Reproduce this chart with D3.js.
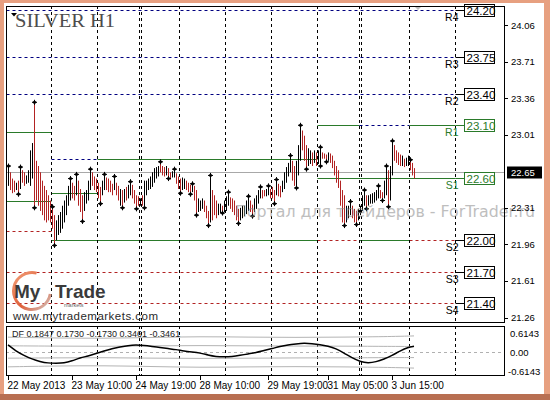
<!DOCTYPE html>
<html><head><meta charset="utf-8">
<script src="https://cdn.jsdelivr.net/npm/d3@7"></script>
<style>body{margin:0;background:#fff}svg{display:block}</style>
</head><body><svg id="c" width="550" height="400"></svg>
<script>
// ---------- DATA ----------
const barOpen=[22.54,22.63,22.57,22.55,22.50,22.55,22.51,22.65,22.63,22.56,22.57,22.54,22.61,23.30,22.74,22.69,22.63,22.55,22.50,22.46,22.41,22.36,22.30,22.22,22.02,22.07,22.09,22.13,22.19,22.26,22.35,22.40,22.53,22.50,22.45,22.55,22.47,22.41,22.30,22.37,22.40,22.50,22.63,22.59,22.57,22.53,22.49,22.45,22.50,22.58,22.57,22.55,22.52,22.50,22.53,22.50,22.35,22.46,22.38,22.49,22.42,22.45,22.51,22.46,22.41,22.40,22.35,22.41,22.33,22.45,22.50,22.51,22.53,22.57,22.61,22.63,22.73,22.69,22.68,22.64,22.67,22.63,22.61,22.62,22.62,22.59,22.57,22.50,22.51,22.55,22.53,22.51,22.48,22.50,22.46,22.29,22.30,22.32,22.36,22.31,22.26,22.19,22.46,22.41,22.36,22.26,22.28,22.31,22.29,22.30,22.35,22.39,22.38,22.36,22.31,22.28,22.21,22.23,22.25,22.27,22.30,22.36,22.32,22.29,22.32,22.37,22.42,22.46,22.46,22.44,22.45,22.47,22.49,22.46,22.45,22.52,22.50,22.48,22.51,22.57,22.63,22.67,22.74,22.69,22.52,22.64,22.78,23.03,22.98,22.89,22.73,22.75,22.82,22.76,22.82,22.75,22.73,22.83,22.82,22.81,22.77,22.81,22.79,22.74,22.69,22.65,22.55,22.46,22.41,22.19,22.23,22.26,22.31,22.28,22.26,22.21,22.26,22.30,22.35,22.41,22.35,22.37,22.37,22.38,22.40,22.42,22.46,22.44,22.42,22.45,22.65,22.40,22.64,22.89,22.84,22.82,22.80,22.73,22.76,22.73,22.73,22.75,22.72,22.67];
const barHigh=[22.71,22.65,22.59,22.57,22.55,22.57,22.70,22.67,22.65,22.62,22.67,22.86,22.93,23.32,22.76,22.71,22.65,22.57,22.52,22.48,22.43,22.38,22.32,22.24,22.19,22.24,22.27,22.33,22.38,22.43,22.52,22.59,22.55,22.52,22.63,22.57,22.49,22.43,22.46,22.48,22.57,22.68,22.65,22.61,22.59,22.55,22.51,22.57,22.63,22.60,22.59,22.57,22.54,22.61,22.55,22.52,22.49,22.48,22.49,22.51,22.53,22.56,22.53,22.48,22.43,22.42,22.40,22.43,22.57,22.57,22.59,22.61,22.65,22.69,22.70,22.71,22.75,22.71,22.70,22.71,22.69,22.65,22.66,22.68,22.64,22.61,22.59,22.60,22.59,22.57,22.55,22.53,22.54,22.52,22.48,22.40,22.38,22.40,22.38,22.33,22.28,22.62,22.48,22.43,22.38,22.35,22.35,22.33,22.38,22.42,22.46,22.41,22.40,22.38,22.33,22.30,22.31,22.33,22.33,22.38,22.42,22.38,22.34,22.40,22.43,22.48,22.51,22.48,22.48,22.49,22.52,22.49,22.51,22.48,22.58,22.54,22.52,22.57,22.65,22.70,22.74,22.81,22.76,22.71,22.76,22.91,23.10,23.05,23.00,22.91,22.88,22.86,22.84,22.86,22.84,22.86,22.89,22.84,22.83,22.82,22.84,22.83,22.81,22.76,22.71,22.67,22.57,22.48,22.43,22.33,22.33,22.37,22.33,22.30,22.28,22.30,22.33,22.43,22.48,22.43,22.43,22.44,22.45,22.46,22.48,22.52,22.48,22.46,22.57,22.71,22.67,22.71,22.95,22.91,22.86,22.84,22.82,22.81,22.78,22.79,22.81,22.77,22.74,22.69];
const barLow=[22.52,22.48,22.45,22.46,22.48,22.44,22.49,22.55,22.52,22.54,22.55,22.52,22.59,22.31,22.38,22.33,22.28,22.24,22.19,22.17,22.19,22.17,22.11,21.95,22.00,22.05,22.07,22.11,22.17,22.24,22.33,22.38,22.40,22.38,22.43,22.33,22.27,22.18,22.28,22.35,22.38,22.48,22.52,22.48,22.46,22.40,22.35,22.43,22.48,22.48,22.46,22.46,22.43,22.48,22.43,22.38,22.33,22.31,22.36,22.38,22.40,22.43,22.40,22.35,22.30,22.33,22.33,22.33,22.31,22.43,22.48,22.49,22.51,22.55,22.59,22.61,22.65,22.62,22.61,22.62,22.59,22.58,22.60,22.60,22.54,22.49,22.45,22.48,22.49,22.48,22.46,22.44,22.46,22.38,22.24,22.27,22.28,22.30,22.27,22.21,22.14,22.17,22.19,22.24,22.21,22.24,22.26,22.26,22.27,22.28,22.33,22.30,22.27,22.24,22.19,22.16,22.19,22.21,22.23,22.25,22.28,22.27,22.23,22.27,22.30,22.35,22.40,22.40,22.42,22.42,22.43,22.40,22.40,22.35,22.43,22.42,22.41,22.46,22.49,22.55,22.61,22.65,22.57,22.52,22.50,22.62,22.76,22.86,22.76,22.68,22.71,22.73,22.71,22.74,22.71,22.73,22.71,22.78,22.78,22.75,22.76,22.74,22.69,22.62,22.55,22.50,22.33,22.17,22.14,22.17,22.21,22.24,22.21,22.17,22.15,22.19,22.24,22.28,22.33,22.30,22.33,22.35,22.35,22.36,22.38,22.40,22.40,22.38,22.40,22.43,22.32,22.38,22.62,22.76,22.74,22.72,22.71,22.71,22.70,22.71,22.71,22.67,22.62,22.59];
const barClose=[22.69,22.50,22.47,22.48,22.53,22.46,22.68,22.57,22.54,22.60,22.65,22.84,22.91,22.33,22.40,22.35,22.30,22.26,22.21,22.19,22.21,22.19,22.13,21.97,22.17,22.22,22.25,22.31,22.36,22.41,22.50,22.57,22.42,22.40,22.61,22.35,22.29,22.20,22.44,22.46,22.55,22.66,22.54,22.50,22.48,22.42,22.37,22.55,22.61,22.50,22.48,22.48,22.45,22.59,22.45,22.40,22.47,22.33,22.47,22.40,22.51,22.54,22.42,22.37,22.32,22.35,22.38,22.35,22.55,22.55,22.57,22.59,22.63,22.67,22.68,22.69,22.67,22.64,22.63,22.69,22.61,22.60,22.65,22.66,22.56,22.51,22.47,22.58,22.57,22.50,22.48,22.46,22.52,22.40,22.26,22.38,22.36,22.38,22.29,22.23,22.16,22.60,22.21,22.26,22.23,22.33,22.33,22.28,22.36,22.40,22.44,22.32,22.29,22.26,22.21,22.18,22.29,22.31,22.31,22.36,22.40,22.29,22.25,22.38,22.41,22.46,22.49,22.42,22.44,22.47,22.50,22.42,22.42,22.37,22.56,22.44,22.43,22.55,22.63,22.68,22.72,22.79,22.59,22.54,22.74,22.89,23.08,22.88,22.78,22.70,22.86,22.84,22.73,22.84,22.73,22.84,22.87,22.79,22.79,22.76,22.83,22.76,22.71,22.64,22.57,22.52,22.35,22.19,22.16,22.31,22.31,22.35,22.23,22.19,22.17,22.28,22.31,22.41,22.46,22.32,22.41,22.42,22.43,22.44,22.46,22.50,22.42,22.40,22.55,22.69,22.34,22.69,22.93,22.78,22.76,22.74,22.73,22.79,22.72,22.77,22.79,22.69,22.64,22.65];
const fractalUp=[0,6,13,22,31,34,41,48,53,61,76,83,92,101,110,120,126,130,134,141,146,156,171,178,185,189,192,201];
const fractalDown=[5,13,23,37,46,57,64,68,80,86,91,94,100,107,115,122,133,144,149,156,159,168,174,179,187,190];
const daySeparators=[21.5,44.5,65.5,66.5,85.5,108.5,131.5,154.5,175.5,176.5,200.5,223.5];
const timeTickIdx=[0,32,64,96,130,160,192];
const timeTickLabels=["22 May 2013","23 May 10:00","24 May 19:00","28 May 10:00","29 May 19:00","31 May 05:00","3 Jun 15:00"];
const priceTicks=[24.06,23.71,23.36,23.01,22.31,21.96,21.61,21.26];
const levelNames=["R4","R3","R2","R1","S1","S2","S3","S4"];
const levelValues=[24.20,23.75,23.40,23.10,22.60,22.00,21.70,21.40];
const levelKinds=["res","res","res","piv","piv","sup","sup","sup"];
const segPrice=[24.20,23.75,23.40,21.70,21.40,23.04,22.38,22.09,22.78,22.45,22.00,22.78,23.10,22.60,22.00,23.10,22.00,23.10,22.00];
const segFrom=[-1,-1,-1,-1,-1,-1,-1,-1,21.5,21.5,21.5,44.5,154.5,154.5,154.5,175.5,175.5,200.5,200.5];
const segTo=[223.5,223.5,223.5,223.5,223.5,21.5,21.5,21.5,44.5,44.5,154.5,154.5,175.5,223.5,175.5,200.5,200.5,223.5,223.5];
const segKind=["res","res","res","sup","sup","piv","piv","sup","res","piv","piv","piv","piv","piv","sup","res","piv","piv","sup"];
const lastPrice=22.65;
const dfIdx=[0,4,8,12,16,20,24,28,32,36,40,44,48,52,56,60,64,68,72,76,80,84,88,92,96,100,104,108,112,116,120,124,128,132,136,140,144,148,152,156,160,164,168,172,176,180,184,188,192,196,200,203];
const dfVal=[0.23,0.03,-0.11,-0.23,-0.31,-0.36,-0.36,-0.36,-0.29,-0.19,-0.13,-0.05,0.03,0.11,0.16,0.21,0.23,0.21,0.18,0.15,0.11,0.08,0.03,0.00,-0.03,-0.10,-0.15,-0.16,-0.15,-0.11,-0.06,-0.02,0.05,0.11,0.18,0.23,0.26,0.29,0.27,0.24,0.19,0.11,-0.03,-0.19,-0.31,-0.36,-0.32,-0.23,-0.11,0.03,0.15,0.1847];
const bandIdx=[0,24,48,72,96,120,144,168,192,203];
const bandUpperOuter=[0.48,0.45,0.44,0.47,0.50,0.48,0.47,0.48,0.50,0.52];
const bandUpperInner=[0.20,0.19,0.18,0.20,0.21,0.20,0.19,0.19,0.18,0.18];
const bandLowerInner=[-0.20,-0.19,-0.18,-0.20,-0.21,-0.20,-0.19,-0.19,-0.18,-0.18];
const bandLowerOuter=[-0.48,-0.45,-0.44,-0.47,-0.50,-0.48,-0.47,-0.48,-0.50,-0.52];
const dfLegend=[0.1847,0.1730,-0.1730,0.3461,-0.3461];
const dfTicks=[0.6143,0,-0.6143];

// ---------- LAYOUT ----------
const svg=d3.select('#c');
const L=6,R=505,T=6,B=323,IT=326,IB=376;
const x=d3.scaleLinear().domain([0,203]).range([8,414]);
const y=d3.scaleLinear().domain([21.26,24.06]).range([317.5,25]);
const yi=d3.scaleLinear().domain([-0.6143,0.6143]).range([371,333]);
const px=v=>Math.round(x(v))+0.5;
const py=v=>Math.round(y(v))+0.5;
const FONT="'Liberation Sans', Arial, sans-serif";
const GREEN="#2a7a2a", NAVY="#000080", RED="#b22222";
const kindColor={res:NAVY,sup:RED,piv:GREEN};
const kindDash={res:"3,3",sup:"3,3",piv:null};

// frame
svg.append('rect').attr('width',550).attr('height',400).attr('fill','#e7a080');
svg.append('rect').attr('x',4).attr('y',3).attr('width',540).attr('height',391).attr('fill','#fff');
svg.append('rect').attr('x',0).attr('y',394).attr('width',550).attr('height',6).attr('fill','#b86f52');

const defs=svg.append('defs');
defs.append('clipPath').attr('id','main').append('rect').attr('x',L).attr('y',T).attr('width',R-L).attr('height',B-T);
defs.append('clipPath').attr('id','ind').append('rect').attr('x',L).attr('y',IT).attr('width',R-L).attr('height',IB-IT);

const gm=svg.append('g').attr('clip-path','url(#main)');

// level segments
gm.selectAll('line.seg').data(segPrice).join('line').attr('class','seg')
  .attr('x1',(d,i)=>px(segFrom[i])).attr('x2',(d,i)=>px(segTo[i]))
  .attr('y1',d=>py(d)).attr('y2',d=>py(d))
  .attr('stroke',(d,i)=>kindColor[segKind[i]]).attr('stroke-dasharray',(d,i)=>kindDash[segKind[i]]);

// day separators
gm.selectAll('line.sep').data(daySeparators).join('line').attr('class','sep')
  .attr('x1',d=>px(d)).attr('x2',d=>px(d)).attr('y1',T).attr('y2',B)
  .attr('stroke','#000').attr('stroke-dasharray','3,3');

// current price line
gm.append('line').attr('x1',L).attr('x2',R).attr('y1',py(lastPrice)).attr('y2',py(lastPrice)).attr('stroke','#a8a8a8');

// bars
gm.selectAll('line.bar').data(barHigh).join('line').attr('class','bar')
  .attr('x1',(d,i)=>px(i)).attr('x2',(d,i)=>px(i))
  .attr('y1',d=>y(d)).attr('y2',(d,i)=>y(barLow[i]))
  .attr('stroke',(d,i)=>barClose[i]>=barOpen[i]?'#000':RED).attr('stroke-width',1);

// fractals (small diamonds with a cross)
const sym=d3.symbol().type(d3.symbolSquare).size(9);
function marker(sel){
  sel.append('path').attr('d',sym).attr('transform','rotate(45)').attr('fill','#000');
  sel.append('path').attr('d','M-2.5,0H2.5M0,-2.5V2.5').attr('stroke','#000').attr('stroke-width',1);
}
gm.selectAll('g.fu').data(fractalUp).join('g').attr('class','fu')
  .attr('transform',i=>`translate(${px(i)},${y(barHigh[i])})`).call(marker);
gm.selectAll('g.fd').data(fractalDown).join('g').attr('class','fd')
  .attr('transform',i=>`translate(${px(i)},${y(barLow[i])})`).call(marker);

// level labels for current day
const lg=svg.append('g');
levelValues.forEach((v,k)=>{
  const c=levelKinds[k]==='piv'?GREEN:'#000';
  const yy=py(v);
  lg.append('line').attr('x1',px(223.5)).attr('x2',px(228)).attr('y1',yy).attr('y2',yy).attr('stroke',c);
  lg.append('rect').attr('x',px(228)).attr('y',yy-6).attr('width',30).attr('height',12).attr('fill','#fff').attr('stroke',c);
  lg.append('text').attr('x',px(228)+2).attr('y',yy+4.5).text(v.toFixed(2))
    .attr('font-family',FONT).attr('font-size',11.5).attr('fill',c);
  lg.append('text').attr('x',px(223.5)+3).attr('y',yy+10).attr('text-anchor','end').text(levelNames[k])
    .attr('font-family',FONT).attr('font-size',10.5).attr('fill',c);
});

// watermark
svg.append('text').attr('x',235).attr('y',217).text('Портал для трейдеров - ForTrader.ru')
  .attr('font-family',"'DejaVu Sans',sans-serif").attr('font-size',16).attr('fill','#8a8a8a').attr('opacity',0.55)
  .attr('textLength',300).attr('lengthAdjust','spacingAndGlyphs');

// title
svg.append('path').attr('d','M11,13L17,13L14,16.5Z').attr('fill','#000');
svg.append('text').attr('x',15).attr('y',27).text('SILVER H1').attr('font-family',"'Liberation Serif',serif")
  .attr('font-size',19).attr('fill','#4d4d4d').attr('textLength',100).attr('lengthAdjust','spacingAndGlyphs');
svg.append('path').attr('d','M414,6L422,6L418,10Z').attr('fill','#bdbdbd');

// logo
const arc=d3.arc().innerRadius(17).outerRadius(20).startAngle(Math.PI*0.55).endAngle(Math.PI*2.08);
const grad=defs.append('linearGradient').attr('id','lg1').attr('x1','0').attr('y1','0').attr('x2','1').attr('y2','1');
grad.append('stop').attr('offset','0').attr('stop-color','#f3a47e');
grad.append('stop').attr('offset','0.55').attr('stop-color','#e0603a');
grad.append('stop').attr('offset','1').attr('stop-color','#d0d0d0');
svg.append('path').attr('d',arc()).attr('transform','translate(32,291)').attr('fill','url(#lg1)');
svg.append('text').attr('x',14).attr('y',298).text('My').attr('font-family',FONT).attr('font-weight','bold').attr('font-size',19).attr('fill','#3a3a3a');
svg.append('text').attr('x',55).attr('y',298).text('Trade').attr('font-family',FONT).attr('font-weight','bold').attr('font-size',19).attr('fill','#3a3a3a');
svg.append('text').attr('x',64).attr('y',306.5).text('markets').attr('font-family',FONT).attr('font-size',5.5).attr('fill','#666');
svg.append('text').attr('x',13).attr('y',319.5).text('www.mytrademarkets.com').attr('font-family',FONT).attr('font-size',11.5)
  .attr('fill','#2a2a2a').attr('textLength',145).attr('lengthAdjust','spacing');

// main border
svg.append('rect').attr('x',L+0.5).attr('y',T+0.5).attr('width',R-L-1).attr('height',B-T-1).attr('fill','none').attr('stroke','#000');

// price axis
svg.selectAll('line.pt').data(priceTicks).join('line').attr('class','pt')
  .attr('x1',R).attr('x2',R+3).attr('y1',d=>py(d)).attr('y2',d=>py(d)).attr('stroke','#000');
svg.selectAll('text.pt').data(priceTicks).join('text').attr('class','pt')
  .attr('x',R+6).attr('y',d=>y(d)+3.5).text(d=>d.toFixed(2)).attr('font-family',FONT).attr('font-size',9.5).attr('fill','#000');
svg.append('rect').attr('x',R+2).attr('y',py(lastPrice)-6).attr('width',35).attr('height',12).attr('fill','#000');
svg.append('text').attr('x',R+6).attr('y',py(lastPrice)+3.5).text(lastPrice.toFixed(2)).attr('font-family',FONT)
  .attr('font-size',9.5).attr('fill','#fff');

// indicator panel
const gi=svg.append('g').attr('clip-path','url(#ind)');
gi.selectAll('line.sep').data(daySeparators).join('line').attr('class','sep')
  .attr('x1',d=>px(d)).attr('x2',d=>px(d)).attr('y1',IT).attr('y2',IB)
  .attr('stroke','#000').attr('stroke-dasharray','3,3');
gi.append('line').attr('x1',L).attr('x2',R).attr('y1',Math.round(yi(0))+0.5).attr('y2',Math.round(yi(0))+0.5)
  .attr('stroke','#b0b0b0').attr('stroke-dasharray','3,3');
const bl=d3.line().x((d,i)=>x(bandIdx[i])).y(d=>yi(d)).curve(d3.curveBasis);
[bandUpperOuter,bandUpperInner,bandLowerInner,bandLowerOuter].forEach(arr=>{
  gi.append('path').attr('d',bl(arr)).attr('fill','none').attr('stroke','#b4b4b4');
});
const dl=d3.line().x((d,i)=>x(dfIdx[i])).y(d=>yi(d)).curve(d3.curveBasis);
gi.append('path').attr('d',dl(dfVal)).attr('fill','none').attr('stroke','#000').attr('stroke-width',1.5);
svg.append('text').attr('x',12).attr('y',337).text('DF '+dfLegend.map(v=>v.toFixed(4)).join(' '))
  .attr('font-family',FONT).attr('font-size',9).attr('fill','#222');
svg.append('rect').attr('x',L+0.5).attr('y',IT+0.5).attr('width',R-L-1).attr('height',IB-IT-1).attr('fill','none').attr('stroke','#000');
svg.selectAll('text.it').data(dfTicks).join('text').attr('class','it')
  .attr('x',d=>d<0?R+3:R+5).attr('y',d=>yi(d)+3.5).text(d=>d===0?'0.00':d.toFixed(4))
  .attr('font-family',FONT).attr('font-size',9.5).attr('fill','#000');

// time axis
svg.selectAll('line.tt').data(timeTickIdx).join('line').attr('class','tt')
  .attr('x1',d=>px(d)).attr('x2',d=>px(d)).attr('y1',IB).attr('y2',IB+4).attr('stroke','#000');
svg.selectAll('text.tt').data(timeTickIdx).join('text').attr('class','tt')
  .attr('x',d=>px(d)-1).attr('y',389).text((d,i)=>timeTickLabels[i])
  .attr('font-family',FONT).attr('font-size',10).attr('fill','#000');
</script></body></html>
